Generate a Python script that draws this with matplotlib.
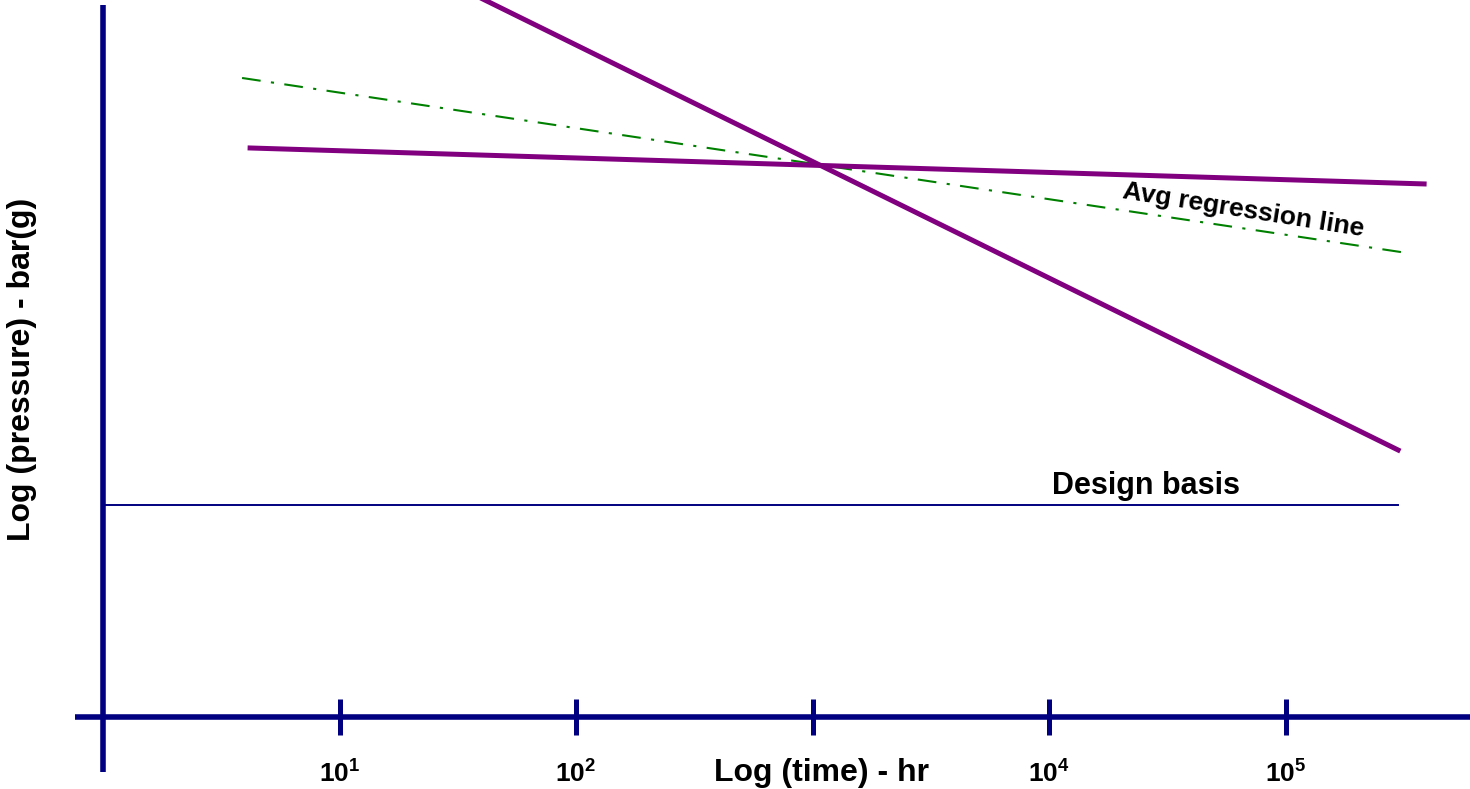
import matplotlib.pyplot as plt

plt.rcParams['font.family'] = ['Liberation Sans', 'DejaVu Sans']
plt.rcParams['mathtext.fontset'] = 'custom'
plt.rcParams['mathtext.rm'] = 'Liberation Sans:bold'
plt.rcParams['mathtext.bf'] = 'Liberation Sans:bold'

# x = log10(time in hr), y = log(pressure), arbitrary units
tick_pos = [1, 2, 3, 4, 5]
tick_lbl = [r'$\mathbf{10^{1}}$', r'$\mathbf{10^{2}}$', '', r'$\mathbf{10^{4}}$', r'$\mathbf{10^{5}}$']

steep_x = [1.50, 5.476]
steep_y = [3.088, 1.129]

flat_x = [0.622, 5.586]
flat_y = [2.406, 2.254]

avg_x = [0.588, 5.514]
avg_y = [2.702, 1.962]

design_x = [0.0, 5.476]
design_y = [0.896, 0.896]

navy = '#000080'
purple = '#800080'
green = '#008000'

fig = plt.figure(figsize=(14.7, 7.89), dpi=100)
ax = fig.add_axes([0, 0, 1, 1])
ax.set_xlim(-0.4355, 5.780)
ax.set_ylim(-0.3044, 3.0317)
ax.axis('off')

# axes drawn by hand like the schematic
ax.plot([-0.12, 5.78], [0, 0], color=navy, lw=4, solid_capstyle='butt')
ax.plot([0, 0], [-0.233, 3.01], color=navy, lw=4, solid_capstyle='butt')
ax.vlines(tick_pos, -0.078, 0.078, color=navy, lw=3.6)
for p, l in zip(tick_pos, tick_lbl):
    if l:
        ax.text(p, -0.24, l, ha='center', va='center', fontsize=19, fontweight='bold')

ax.plot(design_x, design_y, color=navy, lw=1.4)
ax.plot(avg_x, avg_y, color=green, lw=1.5, linestyle=(0, (9, 5, 1.5, 5)))
ax.plot(flat_x, flat_y, color=purple, lw=3.6)
ax.plot(steep_x, steep_y, color=purple, lw=3.6)

ax.text(4.82, 2.144, 'Avg regression line', rotation=-9, ha='center', va='center',
        fontsize=19, fontweight='bold', rotation_mode='anchor')
ax.text(4.41, 0.975, 'Design basis', ha='center', va='center', fontsize=22, fontweight='bold')

ax.text(3.04, -0.235, 'Log (time) - hr', ha='center', va='center', fontsize=23, fontweight='bold')
ax.text(-0.342, 1.469, 'Log (pressure) - bar(g)', rotation=90, ha='center', va='center',
        fontsize=23, fontweight='bold')

fig.savefig('out.png', dpi=100)
